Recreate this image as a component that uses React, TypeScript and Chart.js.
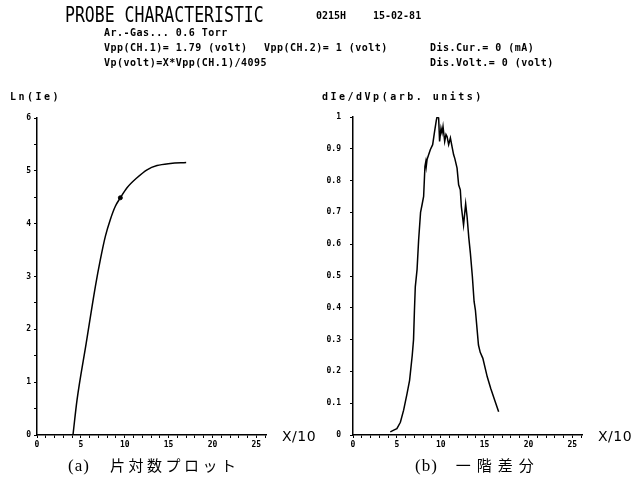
import React, { useEffect, useRef } from "react";
import { Chart, registerables } from "chart.js";

Chart.register(...registerables);

// Left panel: semi-log plot  Ln(Ie) vs X/10
const lnX = [4.1, 4.56, 5.6, 6.65, 7.22, 7.79, 8.36, 8.93, 9.5, 10.26, 11.4, 12.54, 13.68, 15.2, 17.0];
const lnY = [0, 0.66, 1.73, 2.81, 3.32, 3.76, 4.08, 4.33, 4.49, 4.68, 4.87, 5.02, 5.1, 5.14, 5.16];
const lnMarkX = [9.5];
const lnMarkY = [4.49];

// Right panel: first difference dIe/dVp
const dX = [4.25, 4.7, 5.0, 5.4, 5.77, 6.16, 6.45, 6.75, 6.9, 7.0, 7.1, 7.3, 7.48, 7.7, 7.87, 8.05, 8.2, 8.3, 8.35, 8.44, 8.6, 8.81, 9.08, 9.3, 9.5, 9.58, 9.76, 9.87, 10.03, 10.15, 10.26, 10.45, 10.6, 10.72, 10.9, 11.1, 11.32, 11.47, 11.6, 11.86, 12.04, 12.23, 12.35, 12.6, 12.84, 13.0, 13.2, 13.38, 13.6, 13.8, 13.95, 14.3, 14.5, 14.8, 15.3, 15.7, 16.2, 16.6];
const dY = [0.01, 0.016, 0.02, 0.04, 0.078, 0.13, 0.172, 0.25, 0.3, 0.39, 0.466, 0.52, 0.613, 0.7, 0.724, 0.75, 0.845, 0.86, 0.845, 0.866, 0.88, 0.897, 0.913, 0.955, 0.99, 1.0, 0.997, 0.923, 0.965, 0.95, 0.97, 0.923, 0.945, 0.939, 0.913, 0.934, 0.902, 0.881, 0.87, 0.839, 0.787, 0.771, 0.718, 0.66, 0.727, 0.687, 0.62, 0.571, 0.5, 0.42, 0.393, 0.283, 0.26, 0.241, 0.183, 0.146, 0.105, 0.073];

const xTickLabels = [0, 5, 10, 15, 20, 25];
const lnTickLabels = [0, 1, 2, 3, 4, 5, 6];

const W = 632;
const H = 482;
const MONO = "'DejaVu Sans Mono', 'Liberation Mono', monospace";

function pts(xs: number[], ys: number[]) {
  return xs.map((x, i) => ({ x, y: ys[i] }));
}

function makeScales(yMax: number, yStep: number, yLabel: (v: number) => string, yWidth: number, yPad: number) {
  const tickFont = { family: MONO, size: 8, weight: "bold" as const };
  return {
    x: {
      type: "linear" as const,
      min: 0,
      max: 26.1,
      afterFit: (s: any) => { s.height = 20; },
      border: { display: true, color: "#000", width: 1.5 },
      grid: { display: true, drawOnChartArea: false, drawTicks: true, tickLength: 3, color: "#000", lineWidth: 1 },
      ticks: {
        stepSize: 1,
        autoSkip: false,
        maxRotation: 0,
        includeBounds: false,
        padding: 2,
        color: "#000",
        font: tickFont,
        callback: (v: any) => (xTickLabels.includes(Number(v)) ? String(v) : ""),
      },
    },
    y: {
      type: "linear" as const,
      min: 0,
      max: yMax,
      afterFit: (s: any) => { s.width = yWidth; },
      border: { display: true, color: "#000", width: 1.5 },
      grid: { display: true, drawOnChartArea: false, drawTicks: true, tickLength: 3, color: "#000", lineWidth: 1 },
      ticks: {
        stepSize: yStep,
        autoSkip: false,
        includeBounds: false,
        padding: yPad,
        color: "#000",
        font: tickFont,
        callback: (v: any) => yLabel(Number(v)),
      },
    },
  };
}

export default function App() {
  const leftRef = useRef<HTMLCanvasElement>(null);
  const rightRef = useRef<HTMLCanvasElement>(null);

  useEffect(() => {
    const left = new Chart(leftRef.current!, {
      type: "scatter",
      data: {
        datasets: [
          {
            data: pts(lnX, lnY),
            showLine: true,
            borderColor: "#000",
            borderWidth: 1.5,
            pointRadius: 0,
            cubicInterpolationMode: "monotone",
          },
          {
            data: pts(lnMarkX, lnMarkY),
            showLine: false,
            pointRadius: 2,
            backgroundColor: "#000",
            borderColor: "#000",
          },
        ],
      },
      options: {
        responsive: false,
        animation: false,
        layout: { padding: { left: 0, top: 118, right: W - 266, bottom: H - 435 - 20 } },
        plugins: { legend: { display: false }, tooltip: { enabled: false } },
        scales: makeScales(6, 0.5, (v) => (lnTickLabels.includes(v) ? String(v) : ""), 37, 3) as any,
      },
    });

    const right = new Chart(rightRef.current!, {
      type: "scatter",
      data: {
        datasets: [
          {
            data: pts(dX, dY),
            showLine: true,
            borderColor: "#000",
            borderWidth: 1.5,
            pointRadius: 0,
            tension: 0,
          },
        ],
      },
      options: {
        responsive: false,
        animation: false,
        layout: { padding: { left: 353 - 40, top: 117, right: W - 582, bottom: H - 435 - 20 } },
        plugins: { legend: { display: false }, tooltip: { enabled: false } },
        scales: makeScales(1, 0.1, (v) => String(Number(v.toFixed(1))), 40, 9) as any,
      },
    });

    return () => {
      left.destroy();
      right.destroy();
    };
  }, []);

  const small: React.CSSProperties = {
    position: "absolute",
    fontFamily: MONO,
    fontSize: 10,
    fontWeight: "bold",
    letterSpacing: 0.5,
    lineHeight: "10px",
    whiteSpace: "nowrap",
    color: "#000",
  };
  const axisTitle: React.CSSProperties = { ...small, letterSpacing: 2.5 };
  const xUnit: React.CSSProperties = {
    position: "absolute",
    fontFamily: "'DejaVu Sans', sans-serif",
    fontSize: 14,
    lineHeight: "14px",
    letterSpacing: 0.5,
    whiteSpace: "nowrap",
    color: "#000",
  };
  const caption: React.CSSProperties = {
    position: "absolute",
    fontFamily: "'Noto Sans CJK JP', sans-serif",
    fontSize: 15,
    lineHeight: "16px",
    whiteSpace: "nowrap",
    color: "#000",
  };
  const paren: React.CSSProperties = { fontFamily: "'Liberation Serif', 'DejaVu Serif', serif", fontSize: 17, letterSpacing: 1 };

  return (
    <div style={{ position: "absolute", left: 0, top: 0, width: W, height: H, background: "#fff", overflow: "hidden" }}>
      <canvas ref={leftRef} width={W} height={H} style={{ position: "absolute", left: 0, top: 0 }} />
      <canvas ref={rightRef} width={W} height={H} style={{ position: "absolute", left: 0, top: 0 }} />

      <div
        style={{
          position: "absolute",
          left: 65,
          top: 4,
          fontFamily: MONO,
          fontSize: 16.5,
          lineHeight: "17px",
          whiteSpace: "nowrap",
          color: "#000",
          transform: "scaleY(1.25)",
          transformOrigin: "0 0",
        }}
      >
        PROBE CHARACTERISTIC
      </div>
      <div style={{ ...small, left: 316, top: 11, letterSpacing: 0 }}>0215H</div>
      <div style={{ ...small, left: 373, top: 11, letterSpacing: 0 }}>15-02-81</div>

      <div style={{ ...small, left: 104, top: 28 }}>Ar.-Gas... 0.6 Torr</div>
      <div style={{ ...small, left: 104, top: 43 }}>Vpp(CH.1)= 1.79 (volt)</div>
      <div style={{ ...small, left: 264, top: 43 }}>Vpp(CH.2)= 1 (volt)</div>
      <div style={{ ...small, left: 430, top: 43 }}>Dis.Cur.= 0 (mA)</div>
      <div style={{ ...small, left: 104, top: 58 }}>Vp(volt)=X*Vpp(CH.1)/4095</div>
      <div style={{ ...small, left: 430, top: 58 }}>Dis.Volt.= 0 (volt)</div>

      <div style={{ ...axisTitle, left: 10, top: 92 }}>Ln(Ie)</div>
      <div style={{ ...axisTitle, left: 322, top: 92 }}>dIe/dVp(arb. units)</div>

      <div style={{ ...xUnit, left: 282, top: 429 }}>X/10</div>
      <div style={{ ...xUnit, left: 598, top: 429 }}>X/10</div>

      <div style={{ ...caption, left: 68, top: 457 }}>
        <span style={paren}>(a)</span>
        <span style={{ marginLeft: 20, letterSpacing: 3.5 }}>片対数プロット</span>
      </div>
      <div style={{ ...caption, left: 415, top: 457 }}>
        <span style={paren}>(b)</span>
        <span style={{ marginLeft: 18, letterSpacing: 6 }}>一階差分</span>
      </div>
    </div>
  );
}
